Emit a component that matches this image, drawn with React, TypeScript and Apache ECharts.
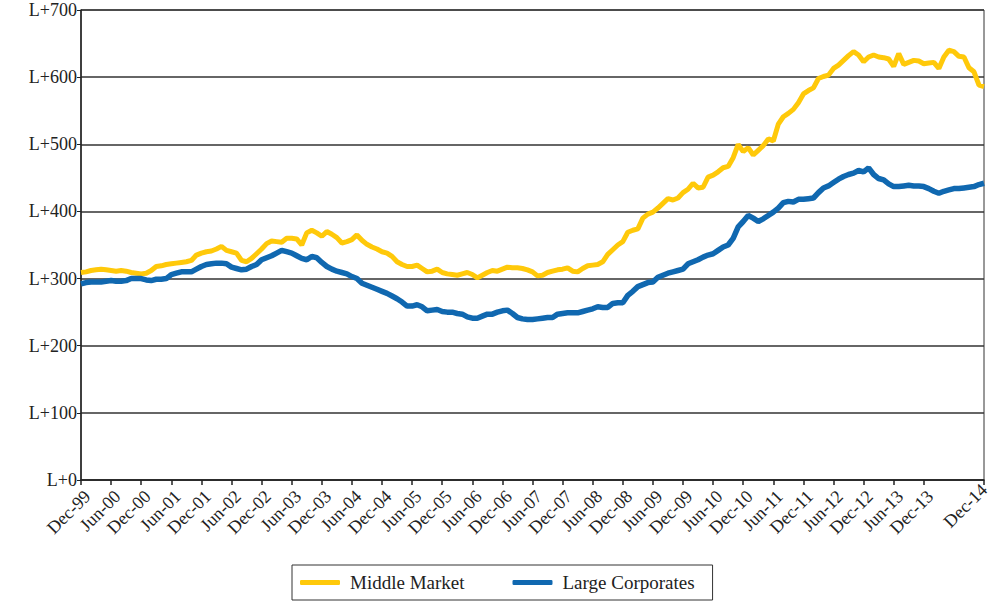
import React, { useEffect, useRef } from "react";
import * as echarts from "echarts";

const monthNames = ["Jan", "Feb", "Mar", "Apr", "May", "Jun", "Jul", "Aug", "Sep", "Oct", "Nov", "Dec"];
// Monthly categories Dec-99 .. Dec-14
const categories: string[] = ["Dec-99"];
for (let y = 0; y <= 14; y++) {
  for (let m = 0; m < 12; m++) {
    categories.push(monthNames[m] + "-" + String(y).padStart(2, "0"));
  }
}

const yTickLabels = ["L+0", "L+100", "L+200", "L+300", "L+400", "L+500", "L+600", "L+700"];

const middleMarket = [
  309, 310, 312, 313, 314, 313, 312, 311, 312, 311, 309, 308, 307, 308, 312, 318, 319, 321, 322, 323,
  324, 325, 327, 335, 338, 340, 341, 344, 348, 342, 340, 338, 327, 325, 330, 337, 344, 352, 356, 355,
  354, 360, 360, 359, 350, 368, 372, 368, 363, 370, 366, 361, 353, 355, 358, 365, 357, 351, 347, 344,
  340, 338, 333, 325, 321, 318, 318, 320, 315, 310, 311, 314, 309, 307, 306, 305, 307, 309, 306, 301,
  305, 309, 312, 311, 314, 317, 316, 316, 315, 313, 310, 304, 305, 309, 311, 313, 314, 316, 311, 310,
  315, 319, 320, 321, 325, 336, 343, 350, 355, 369, 372, 374, 390, 396, 399, 405, 412, 419, 417, 420,
  428, 433, 442, 435, 436, 451, 454, 459, 465, 467, 480, 500, 489, 495, 484, 491, 498, 508, 505, 530,
  541, 546, 552, 562, 575, 580, 584, 598, 601, 603, 613, 618, 625, 632, 638, 633, 623, 630, 633, 630,
  629, 627, 616, 635, 619, 622, 625, 624, 620, 621, 622, 613, 630, 640, 638, 631, 630, 614, 608, 588,
  586,
];

const largeCorporates = [
  292, 294, 295, 295, 295, 296, 297, 296, 296, 297, 300, 300, 300, 298, 297, 299, 299, 300, 306, 308,
  310, 310, 310, 314, 318, 321, 322, 323, 323, 322, 317, 315, 313, 314, 318, 321, 328, 331, 334, 338,
  342, 340, 338, 334, 330, 328, 333, 331, 324, 318, 314, 311, 309, 307, 303, 300, 293, 290, 287, 284,
  281, 278, 274, 270, 265, 259, 259, 261, 258, 252, 253, 254, 251, 250, 250, 248, 247, 243, 241, 241,
  244, 247, 247, 250, 252, 253, 248, 242, 240, 239, 239, 240, 241, 242, 242, 247, 248, 249, 249, 249,
  251, 253, 255, 258, 257, 257, 263, 264, 264, 275, 281, 288, 291, 294, 295, 302, 305, 308, 310, 312,
  314, 322, 325, 328, 332, 335, 337, 342, 347, 350, 360, 377, 385, 394, 390, 385, 389, 394, 399, 405,
  413, 415, 414, 418, 418, 419, 420, 428, 435, 438, 443, 448, 452, 455, 457, 461, 459, 465, 455, 449,
  447, 441, 437, 437, 438, 439, 438, 438, 437, 434, 430, 427, 430, 432, 434, 434, 435, 436, 437, 440,
  442,
];

const FONT = "'Liberation Serif', 'Times New Roman', serif";

export default function App() {
  const ref = useRef<HTMLDivElement>(null);
  useEffect(() => {
    if (!ref.current) return;
    const chart = echarts.init(ref.current, undefined, { renderer: "svg" });
    const xData = categories.map((c, i) =>
      i === categories.length - 1
        ? { value: c, textStyle: { verticalAlign: "middle" } }
        : c
    );
    chart.setOption({
      animation: false,
      backgroundColor: "#ffffff",
      grid: {
        left: 81,
        right: 8,
        top: 10,
        bottom: 123,
        show: true,
        borderColor: "#333",
        borderWidth: 1,
        containLabel: false,
        outerBoundsMode: "none",
      },
      legend: {
        left: 292,
        top: 565,
        data: ["Middle Market", "Large Corporates"],
        borderColor: "#333",
        borderWidth: 1,
        borderRadius: 0,
        padding: [8, 18, 8, 8],
        itemWidth: 40,
        itemHeight: 5,
        itemGap: 48,
        icon: "roundRect",
        textStyle: { fontFamily: FONT, fontSize: 19, color: "#222", padding: [0, 0, 0, 5] },
      },
      xAxis: {
        type: "category",
        data: xData,
        boundaryGap: false,
        axisLine: { lineStyle: { color: "#222", width: 1.5 } },
        axisTick: { interval: 5, length: 5, lineStyle: { color: "#222", width: 1.5 } },
        axisLabel: {
          interval: 5,
          rotate: 45,
          fontFamily: FONT,
          fontSize: 18,
          color: "#222",
          margin: 7,
          verticalAlign: "top",
          showMaxLabel: true,
          showMinLabel: true,
          hideOverlap: false,
        },
        splitLine: { show: false },
      },
      yAxis: {
        type: "value",
        min: 0,
        max: 700,
        interval: 100,
        axisLine: { show: true, lineStyle: { color: "#222", width: 1.5 } },
        axisTick: { show: true, length: 4, lineStyle: { color: "#222" } },
        axisLabel: {
          fontFamily: FONT,
          fontSize: 18,
          color: "#222",
          margin: 4,
          formatter: (v: number) => yTickLabels[Math.round(v / 100)] ?? "",
        },
        splitLine: { lineStyle: { color: "#333", width: 1.5 } },
      },
      series: [
        {
          name: "Middle Market",
          type: "line",
          data: middleMarket,
          symbol: "none",
          color: "#FFC90A",
          lineStyle: { width: 5, color: "#FFC90A" },
        },
        {
          name: "Large Corporates",
          type: "line",
          data: largeCorporates,
          symbol: "none",
          color: "#1068B0",
          lineStyle: { width: 5.5, color: "#1068B0" },
        },
      ],
    });
    return () => chart.dispose();
  }, []);
  return (
    <div
      ref={ref}
      style={{ position: "fixed", left: 0, top: 0, width: 992, height: 603 }}
    />
  );
}
